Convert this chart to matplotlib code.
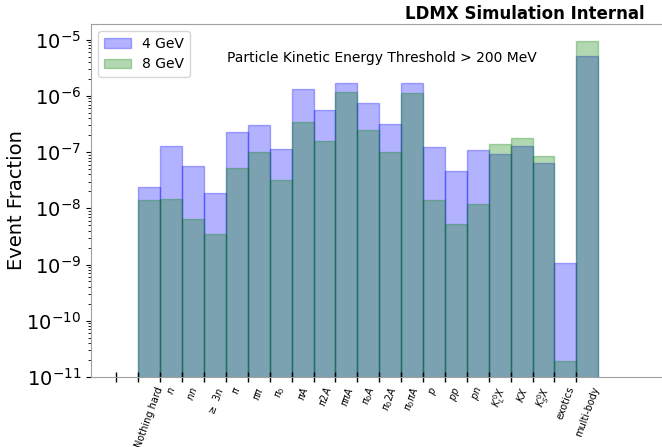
import numpy as np
import matplotlib
matplotlib.use("Agg")
import matplotlib.pyplot as plt

# final-state categories
categories = [
    "Nothing hard", r"$n$", r"$nn$", r"$\geq\ 3n$", r"$\pi$", r"$\pi\pi$",
    r"$\pi_0$", r"$\pi A$", r"$\pi 2A$", r"$\pi\pi A$", r"$\pi_0 A$",
    r"$\pi_0 2A$", r"$\pi_0 \pi A$", r"$p$", r"$pp$", r"$pn$",
    r"$K^0_L X$", r"$KX$", r"$K^0_S X$", "exotics", "multi-body",
]

# event fractions
frac_4gev = [
    2.36e-8, 1.28e-7, 5.64e-8, 1.85e-8, 2.27e-7, 2.98e-7,
    1.15e-7, 1.32e-6, 5.66e-7, 1.68e-6, 7.42e-7,
    3.10e-7, 1.73e-6, 1.25e-7, 4.60e-8, 1.10e-7,
    9.37e-8, 1.28e-7, 6.48e-8, 1.05e-9, 5.15e-6,
]
frac_8gev = [
    1.43e-8, 1.49e-8, 6.46e-9, 3.56e-9, 5.28e-8, 1.02e-7,
    3.14e-8, 3.37e-7, 1.57e-7, 1.16e-6, 2.43e-7,
    1.02e-7, 1.12e-6, 1.43e-8, 5.20e-9, 1.21e-8,
    1.39e-7, 1.77e-7, 8.63e-8, 1.94e-11, 9.64e-6,
]

x = np.arange(len(categories))

fig = plt.figure(figsize=(6.62, 4.47), dpi=100)
ax = fig.add_axes([0.1375, 0.1566, 0.8625, 0.7897])

ax.bar(x, frac_4gev, width=1, align="edge", color="blue", alpha=0.3,
       edgecolor="blue", linewidth=1, label="4 GeV")
ax.bar(x, frac_8gev, width=1, align="edge", color="green", alpha=0.3,
       edgecolor="green", linewidth=1, label="8 GeV")

ax.set_yscale("log")
ax.set_ylim(1e-11, 1.9e-5)
ax.set_xlim(-2.16, 23.91)

# labels in the middle of the bins, tick marks on the bin edges
ax.set_xticks(x + 0.5)
ax.set_xticklabels(categories, rotation=70, fontsize=7)
ax.tick_params(axis="x", which="major", length=0, pad=6)
ax.set_xticks(np.arange(-1, len(categories)), minor=True)
ax.tick_params(axis="x", which="minor", direction="inout", length=7, width=1)

ax.tick_params(axis="y", which="major", labelsize=14)
ax.set_ylabel("Event Fraction", fontsize=14, labelpad=0)

for side in ["top", "left", "bottom"]:
    ax.spines[side].set_color("#a0a0a0")
ax.spines["right"].set_visible(False)

ax.legend(loc="upper left", fontsize=10)
ax.text(0.238, 0.904, "Particle Kinetic Energy Threshold > 200 MeV",
        transform=ax.transAxes, fontsize=10, ha="left", va="center")
fig.text(645 / 662, 1 - 14 / 447, "LDMX Simulation Internal",
         fontsize=12, fontweight="bold", ha="right", va="center")

fig.savefig("out.png", dpi=100)
